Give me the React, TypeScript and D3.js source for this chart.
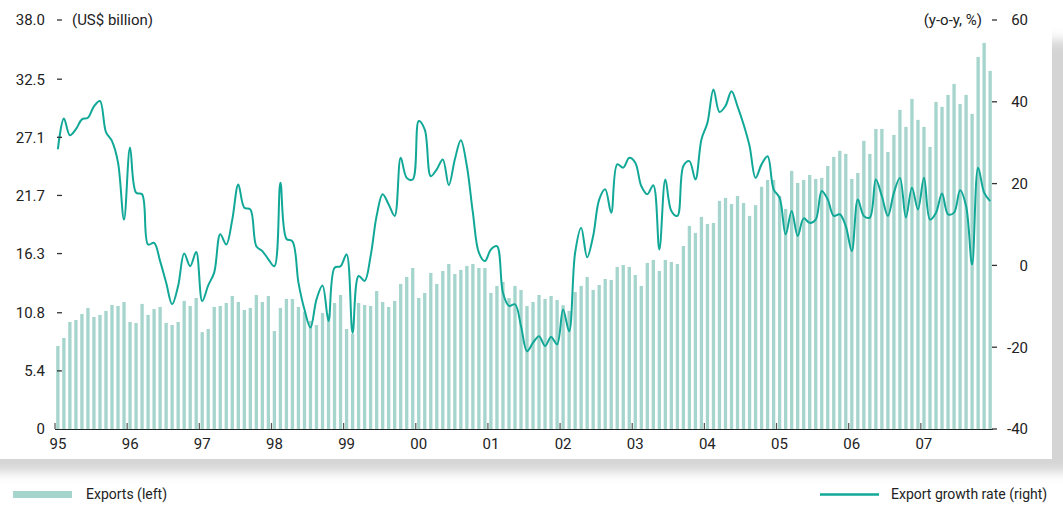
import React from 'react';
import * as d3 from 'd3';

const yearLabels = ['95', '96', '97', '98', '99', '00', '01', '02', '03', '04', '05', '06', '07'];

// Monthly exports, Jan 1995 – Dec 2007 (US$ billion)
const exportsValues = [
  7.71, 8.46, 9.94, 10.13, 10.69, 11.25, 10.41, 10.6, 10.97, 11.52, 11.43, 11.8,
  9.94, 9.85, 11.62, 10.6, 11.15, 11.34, 9.85, 9.66, 9.94, 11.9, 11.43, 12.17,
  9.0, 9.29, 11.34, 11.43, 11.71, 12.36, 11.8, 11.06, 11.25, 12.45, 11.8, 12.36,
  9.1, 11.25, 12.08, 12.08, 11.34, 10.9, 10.04, 9.66, 10.78, 10.7, 11.71, 12.45,
  9.29, 8.83, 11.71, 11.52, 11.43, 12.82, 11.8, 11.34, 11.9, 13.48, 14.13, 14.96,
  12.17, 12.64, 14.5, 13.48, 14.68, 15.33, 14.4, 14.78, 15.15, 15.33, 14.96, 14.96,
  12.64, 13.29, 13.66, 12.17, 13.29, 12.92, 11.43, 11.8, 12.45, 12.08, 12.36, 11.99,
  11.5, 10.97, 12.73, 13.29, 14.13, 12.92, 13.38, 13.94, 13.85, 15.06, 15.24, 15.06,
  14.31, 13.29, 15.43, 15.71, 14.68, 15.71, 15.52, 15.33, 17.0, 18.87, 18.22, 19.7,
  19.05, 19.14, 21.19, 21.47, 20.91, 21.65, 21.0, 19.8, 20.8, 22.5, 23.14, 23.14,
  21.65, 20.45, 23.98, 22.86, 23.14, 23.6, 23.23, 23.33, 24.44, 25.28, 25.84, 25.56,
  23.23, 23.79, 26.77, 25.56, 27.88, 27.88, 25.74, 27.32, 29.65, 28.07, 30.67, 28.72,
  28.07, 26.21, 30.39, 29.93, 31.04, 32.06, 30.2, 31.04, 29.28, 34.57, 35.87, 33.27,
];

// Export growth rate, y-o-y %
const growthValues = [
  28.4, 35.9, 31.8, 33.3, 35.7, 36.1, 38.9, 40.2, 32.6, 30.4, 25.2, 11.2,
  28.8, 17.8, 17.4, 5.1, 5.5, 1.05, -4.2, -9.5, -5.0, 2.9, -0.2, 3.3,
  -8.7, -4.9, -1.7, 7.6, 5.1, 11.2, 19.8, 14.1, 13.7, 4.7, 3.5, 1.5,
  -0.2, 20.2, 6.5, 5.9, -4.2, -10.8, -15.2, -8.3, -4.9, -13.6, -0.6, -0.2,
  2.7, -16.5, -2.6, -3.8, 2.3, 12.1, 17.4, 14.9, 12.1, 26.3, 21.4, 21.0,
  35.3, 33.2, 21.8, 23.5, 25.9, 19.6, 25.9, 30.6, 24.3, 12.9, 3.1, 1.05,
  3.9, 4.7, -6.7, -9.9, -9.5, -14.8, -21.0, -18.9, -17.3, -19.7, -17.5, -19.3,
  -10.8, -16.1, 3.1, 9.2, 2.0, 7.2, 16.1, 18.6, 12.9, 24.7, 23.9, 26.3,
  25.1, 19.4, 17.4, 19.6, 3.9, 21.0, 13.3, 12.1, 24.3, 25.5, 21.0, 30.8,
  34.9, 43.0, 37.5, 39.0, 42.6, 38.9, 34.5, 29.2, 21.4, 24.7, 26.7, 18.6,
  16.5, 7.6, 13.3, 7.2, 11.5, 10.4, 11.2, 18.2, 16.1, 12.1, 12.5, 9.6,
  3.5, 16.1, 12.1, 11.7, 21.0, 16.9, 12.1, 17.8, 21.4, 11.7, 19.0, 13.7,
  21.4, 11.2, 12.9, 17.6, 12.5, 12.9, 18.4, 14.5, 0.2, 23.9, 17.8, 15.7,
];

const leftTicks = [0, 5.4, 10.8, 16.3, 21.7, 27.1, 32.5, 38.0];
const leftTickLabels = ['0', '5.4', '10.8', '16.3', '21.7', '27.1', '32.5', '38.0'];
const rightTicks = [-40, -20, 0, 20, 40, 60];

const W = 1063;
const H = 509;
const BAR = '#a5d5cc';
const LINE = '#12a898';
const FONT = "Roboto, 'Noto Sans', sans-serif";

export default function App() {
  const idx = d3.range(exportsValues.length);
  const x = d3.scaleBand<number>().domain(idx).range([55, 993]).paddingInner(0.45).paddingOuter(0.2);
  const yL = d3.scaleLinear().domain([0, 38]).range([429, 20]);
  const yR = d3.scaleLinear().domain([-40, 60]).range([429, 20]);
  const step = x.step();
  const cx = (i: number) => (x(i) as number) + x.bandwidth() / 2;

  const linePath = d3
    .line<number>()
    .x((_, i) => cx(i))
    .y((d) => yR(d))
    .curve(d3.curveCatmullRom.alpha(0.5))(growthValues) as string;

  const yearX = (k: number) => 55 + k * 12 * (938 / 156);

  return (
    <div style={{ position: 'absolute', left: 0, top: 0 }}>
      <svg width={W} height={H} style={{ display: 'block', fontFamily: FONT }}>
        <defs>
          <filter id="sh" x="-5%" y="-10%" width="110%" height="130%">
            <feGaussianBlur stdDeviation="6" />
          </filter>
        </defs>
        <rect x={0} y={0} width={W} height={H} fill="#fff" />
        <rect x={-30} y={40} width={1110} height={432} fill="#d4d4d4" filter="url(#sh)" />
        <rect x={0} y={0} width={1052} height={459} fill="#fff" />

        {/* bars */}
        {exportsValues.map((v, i) => (
          <rect key={i} x={x(i)} y={yL(v)} width={x.bandwidth()} height={yL(0) - yL(v)} fill={BAR} />
        ))}

        {/* growth line */}
        <path d={linePath} fill="none" stroke={LINE} strokeWidth={2} strokeLinejoin="round" />

        {/* bottom axis */}
        <line x1={55} x2={993} y1={429.5} y2={429.5} stroke="#222" strokeWidth={1.2} />
        {yearLabels.map((lab, k) => (
          <g key={lab}>
            <line x1={yearX(k)} x2={yearX(k)} y1={423} y2={429} stroke="#555" strokeWidth={1.2} />
            <text x={yearX(k) + 3} y={449} fontSize={15} textAnchor="middle" fill="#222">
              {lab}
            </text>
          </g>
        ))}

        {/* left axis */}
        {leftTicks.map((t, i) => (
          <g key={'l' + i}>
            {i > 0 && <line x1={57} x2={62} y1={yL(t)} y2={yL(t)} stroke="#333" strokeWidth={1.3} />}
            <text x={45} y={yL(t)} dy="0.36em" fontSize={15} textAnchor="end" fill="#222">
              {leftTickLabels[i]}
            </text>
          </g>
        ))}
        <text x={72} y={20} dy="0.36em" fontSize={15} fill="#222">
          (US$ billion)
        </text>

        {/* right axis */}
        {rightTicks.map((t) => (
          <g key={'r' + t}>
            <line x1={992} x2={997} y1={yR(t)} y2={yR(t)} stroke="#333" strokeWidth={1.3} />
            <text x={1028} y={yR(t)} dy="0.36em" fontSize={15} textAnchor="end" fill="#222">
              {t}
            </text>
          </g>
        ))}
        <text x={982} y={20} dy="0.36em" fontSize={15} textAnchor="end" fill="#222">
          (y-o-y, %)
        </text>

        {/* legend */}
        <rect x={13} y={491} width={59} height={7} fill={BAR} />
        <text x={86} y={494} dy="0.36em" fontSize={14} fill="#222">
          Exports (left)
        </text>
        <line x1={820} x2={879} y1={494.5} y2={494.5} stroke={LINE} strokeWidth={2.5} />
        <text x={891} y={494} dy="0.36em" fontSize={14} fill="#222">
          Export growth rate (right)
        </text>
      </svg>
    </div>
  );
}
